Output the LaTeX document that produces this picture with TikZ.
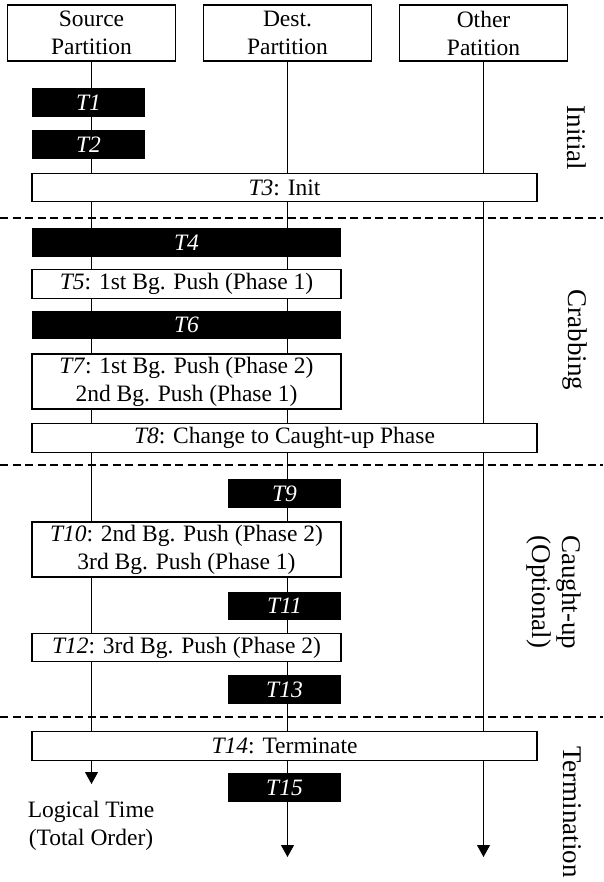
\documentclass[tikz,border=0pt]{standalone}
\usepackage{fontspec}
\setmainfont{Liberation Serif}
\usetikzlibrary{arrows.meta}
\begin{document}
\begin{tikzpicture}[x=1pt,y=-1pt,
  every node/.style={font=\fontsize{23.5pt}{28pt}\selectfont, inner sep=0pt, outer sep=0pt},
  header/.style={draw, line width=1.1pt, fill=white, minimum width=168pt, minimum height=56pt, align=center},
  whitebox/.style={draw, line width=1.1pt, fill=white, minimum height=28.5pt, align=center},
  blackbox/.style={fill=black, text=white, minimum height=28.5pt, font=\fontsize{23.5pt}{28pt}\selectfont\itshape},
  narrow/.style={minimum width=113pt},
  mid/.style={minimum width=309pt},
  wide/.style={minimum width=505pt},
  timeline/.style={line width=1pt, -{Triangle[width=13pt,length=12pt]}},
  sep/.style={line width=1.1pt, dash pattern=on 8pt off 4.5pt},
  phase/.style={rotate=-90, align=center, font=\fontsize{27pt}{30pt}\selectfont}
]
\useasboundingbox (0,0) rectangle (603,882);

% headers
\node[header] (src) at (91.5,33) {Source\\Partition};
\node[header] (dst) at (287.5,33) {Dest.\\Partition};
\node[header] (oth) at (483.5,33) {Other\\Patition};

% timeline ends
\coordinate (srcend) at (91.5,784);
\coordinate (dstend) at (287.5,857);
\coordinate (othend) at (483.5,857);
\draw[timeline] (src.south) -- (srcend);
\draw[timeline] (dst.south) -- (dstend);
\draw[timeline] (oth.south) -- (othend);

% separators
\coordinate (s1l) at (0,218);   \coordinate (s1r) at (603,218);
\coordinate (s2l) at (0,465);   \coordinate (s2r) at (603,465);
\coordinate (s3l) at (0,717);   \coordinate (s3r) at (603,717);
\draw[sep] (s1l) -- (s1r);
\draw[sep] (s2l) -- (s2r);
\draw[sep] (s3l) -- (s3r);

% transactions
\node[blackbox,narrow] (t1) at (88.5,102.5) {T1};
\node[blackbox,narrow] (t2) at (88.5,144.5) {T2};
\node[whitebox,wide] (t3) at (284.5,187.5) {\textit{T3}: Init};
\node[blackbox,mid] (t4) at (186.5,242.5) {T4};
\node[whitebox,mid] (t5) at (186.5,284) {\textit{T5}: 1st Bg. Push (Phase 1)};
\node[blackbox,mid] (t6) at (186.5,325) {T6};
\node[whitebox,mid,minimum height=55pt] (t7) at (186.5,381.5) {\textit{T7}: 1st Bg. Push (Phase 2)\\2nd Bg. Push (Phase 1)};
\node[whitebox,wide] (t8) at (284.5,438) {\textit{T8}: Change to Caught-up Phase};
\node[blackbox,narrow] (t9) at (284.5,493.5) {T9};
\node[whitebox,mid,minimum height=55pt] (t10) at (186.5,549.5) {\textit{T10}: 2nd Bg. Push (Phase 2)\\3rd Bg. Push (Phase 1)};
\node[blackbox,narrow] (t11) at (284.5,606) {T11};
\node[whitebox,mid] (t12) at (186.5,647.5) {\textit{T12}: 3rd Bg. Push (Phase 2)};
\node[blackbox,narrow] (t13) at (284.5,689.5) {T13};
\node[whitebox,wide] (t14) at (284.5,746) {\textit{T14}: Terminate};
\node[blackbox,narrow] (t15) at (284.5,787.5) {T15};

% time label
\node[align=center] (ltime) at (91,826) {Logical Time\\(Total Order)};

% phase labels
\node[phase] (pinit) at (577,138) {Initial};
\node[phase] (pcrab) at (575,340) {Crabbing};
\node[phase] (pcaught) at (554,592) {Caught-up\\(Optional)};
\node[phase] (pterm) at (572,812) {Termination};
\end{tikzpicture}
\end{document}
